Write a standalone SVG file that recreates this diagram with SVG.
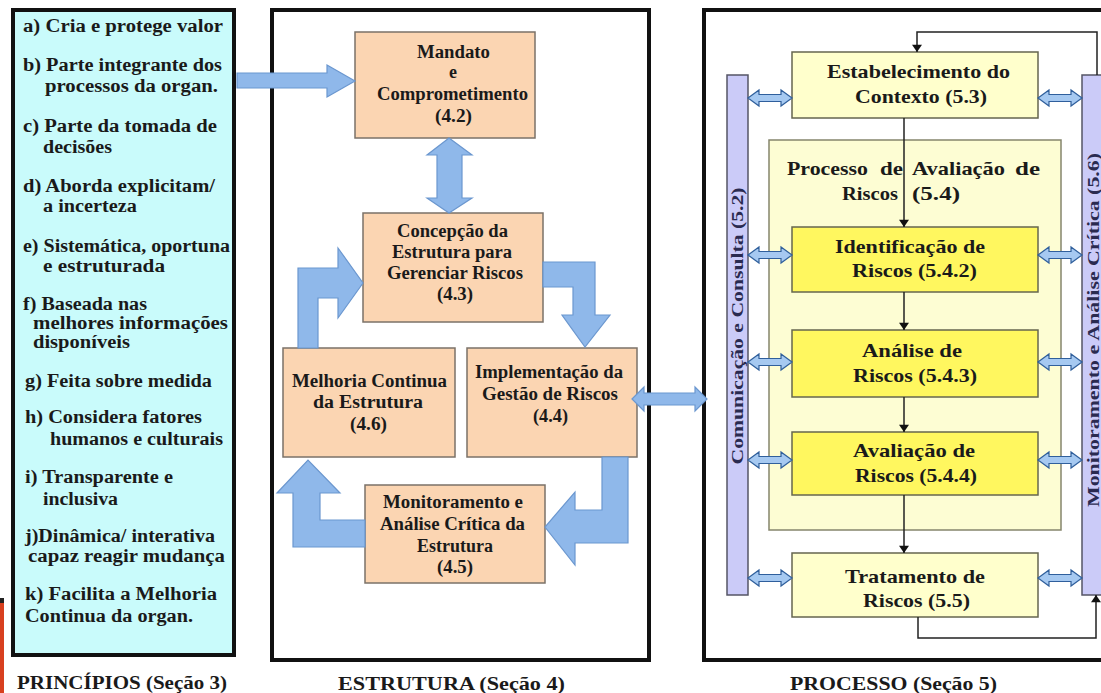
<svg xmlns="http://www.w3.org/2000/svg" xmlns:xlink="http://www.w3.org/1999/xlink" width="1101" height="693" viewBox="0 0 1101 693">
<style>
.t{font-family:"Liberation Serif","Times New Roman",serif;font-weight:bold;fill:#1a1a1a;}
.l{font-size:18px;}
.m{font-size:18px;}
.r{font-size:19px;}
.c{text-anchor:middle;}
.panel{fill:#ffffff;stroke:#111;stroke-width:4;}
.prin{fill:#c9fbfb;stroke:#111;stroke-width:4;}
.peach{fill:#fbd5b2;stroke:#7b7268;stroke-width:1.5;}
.blue{fill:#8fb8ea;stroke:#6b97cf;stroke-width:1.2;}
.ybox{fill:#ffffcc;stroke:#66664f;stroke-width:1.5;}
.ybox2{fill:#fff75f;stroke:#66664f;stroke-width:1.5;}
.proc{fill:#fdfdd3;stroke:#85856c;stroke-width:1.5;}
.bar{fill:#cbcbf8;stroke:#555566;stroke-width:1.5;}
.bt{font-family:"Liberation Serif","Times New Roman",serif;font-weight:bold;font-size:17px;fill:#2a2a50;}
.sa{fill:#a6c9f1;stroke:#2f5f9c;stroke-width:1.2;}
.flow{fill:none;stroke:#222;stroke-width:1.5;}
</style>
<defs>
<marker id="ah" viewBox="0 0 10 14" refX="10" refY="7" markerWidth="14" markerHeight="10" markerUnits="userSpaceOnUse" orient="auto">
<path d="M0,0 L10,7 L0,14 Z" fill="#111"/>
</marker>
<path id="da" d="M0,0 L11,-8 L11,-3.5 L33,-3.5 L33,-8 L44,0 L33,8 L33,3.5 L11,3.5 L11,8 Z"/>
</defs>
<rect x="0" y="0" width="1101" height="693" fill="#ffffff"/>
<rect x="0" y="598" width="4" height="5" fill="#222"/>
<rect x="0" y="603" width="4" height="90" fill="#d8401f"/>

<g id="principios">
<rect class="prin" x="13" y="10" width="221" height="645"/>
<text class="t l" x="23" y="32" textLength="200" lengthAdjust="spacingAndGlyphs">a) Cria e protege  valor</text>
<text class="t l" x="23" y="71" textLength="199" lengthAdjust="spacingAndGlyphs">b) Parte integrante dos</text>
<text class="t l" x="45" y="92" textLength="173" lengthAdjust="spacingAndGlyphs">processos  da organ.</text>
<text class="t l" x="23" y="132" textLength="194" lengthAdjust="spacingAndGlyphs">c) Parte da tomada de</text>
<text class="t l" x="43" y="153" textLength="69" lengthAdjust="spacingAndGlyphs">decisões</text>
<text class="t l" x="23" y="192" textLength="192" lengthAdjust="spacingAndGlyphs">d) Aborda explicitam/</text>
<text class="t l" x="43" y="212" textLength="94" lengthAdjust="spacingAndGlyphs">a incerteza</text>
<text class="t l" x="23" y="252" textLength="207" lengthAdjust="spacingAndGlyphs">e) Sistemática, oportuna</text>
<text class="t l" x="43" y="272" textLength="122" lengthAdjust="spacingAndGlyphs">e estruturada</text>
<text class="t l" x="23" y="310" textLength="124" lengthAdjust="spacingAndGlyphs">f) Baseada nas</text>
<text class="t l" x="33" y="329" textLength="195" lengthAdjust="spacingAndGlyphs">melhores  informações</text>
<text class="t l" x="33" y="348" textLength="97" lengthAdjust="spacingAndGlyphs">disponíveis</text>
<text class="t l" x="25" y="387" textLength="187" lengthAdjust="spacingAndGlyphs">g) Feita sobre medida</text>
<text class="t l" x="25" y="423" textLength="177" lengthAdjust="spacingAndGlyphs">h) Considera fatores</text>
<text class="t l" x="50" y="445" textLength="173" lengthAdjust="spacingAndGlyphs">humanos e culturais</text>
<text class="t l" x="25" y="483" textLength="148" lengthAdjust="spacingAndGlyphs">i) Transparente e</text>
<text class="t l" x="43" y="505" textLength="75" lengthAdjust="spacingAndGlyphs">inclusiva</text>
<text class="t l" x="25" y="542" textLength="190" lengthAdjust="spacingAndGlyphs">j)Dinâmica/ interativa</text>
<text class="t l" x="28" y="562" textLength="197" lengthAdjust="spacingAndGlyphs">capaz reagir  mudança</text>
<text class="t l" x="25" y="600" textLength="192" lengthAdjust="spacingAndGlyphs">k) Facilita  a Melhoria</text>
<text class="t l" x="25" y="622" textLength="168" lengthAdjust="spacingAndGlyphs">Continua da organ.</text>
<text class="t l" x="17" y="689" textLength="210" lengthAdjust="spacingAndGlyphs">PRINCÍPIOS (Seção 3)</text>
</g>

<g id="estrutura">
<rect class="panel" x="272" y="10" width="377" height="650"/>
<text class="t m" x="338" y="690" textLength="227" lengthAdjust="spacingAndGlyphs">ESTRUTURA (Seção 4)</text>
</g>

<g id="processo">
<rect class="panel" x="704" y="10" width="420" height="650"/>
<text class="t m" x="790" y="690" textLength="207" lengthAdjust="spacingAndGlyphs">PROCESSO (Seção 5)</text>
</g>

<g id="mandato">
<rect class="peach" x="355" y="32" width="180" height="106"/>
<text class="t m" x="417" y="58" textLength="73" lengthAdjust="spacingAndGlyphs">Mandato</text>
<text class="t m c" x="453" y="78">e</text>
<text class="t m" x="377" y="100" textLength="151" lengthAdjust="spacingAndGlyphs">Comprometimento</text>
<text class="t m" x="435" y="122" textLength="37" lengthAdjust="spacingAndGlyphs">(4.2)</text>
</g>

<g id="concepcao">
<rect class="peach" x="363" y="213" width="180" height="109"/>
<text class="t m" x="397" y="237" textLength="111" lengthAdjust="spacingAndGlyphs">Concepção da</text>
<text class="t m" x="392" y="258" textLength="120" lengthAdjust="spacingAndGlyphs">Estrutura para</text>
<text class="t m" x="387" y="279" textLength="136" lengthAdjust="spacingAndGlyphs">Gerenciar Riscos</text>
<text class="t m" x="437" y="300" textLength="36" lengthAdjust="spacingAndGlyphs">(4.3)</text>
</g>

<g id="melhoria">
<rect class="peach" x="283" y="348" width="172" height="109"/>
<text class="t m" x="292" y="387" textLength="155" lengthAdjust="spacingAndGlyphs">Melhoria Continua</text>
<text class="t m" x="313" y="408" textLength="110" lengthAdjust="spacingAndGlyphs">da  Estrutura</text>
<text class="t m" x="350" y="430" textLength="37" lengthAdjust="spacingAndGlyphs">(4.6)</text>
</g>

<g id="implementacao">
<rect class="peach" x="467" y="348" width="170" height="109"/>
<text class="t m" x="475" y="378" textLength="148" lengthAdjust="spacingAndGlyphs">Implementação da</text>
<text class="t m" x="482" y="400" textLength="136" lengthAdjust="spacingAndGlyphs">Gestão de Riscos</text>
<text class="t m" x="533" y="422" textLength="35" lengthAdjust="spacingAndGlyphs">(4.4)</text>
</g>

<g id="monitoramento-estrutura">
<rect class="peach" x="365" y="485" width="180" height="98"/>
<text class="t m" x="383" y="508" textLength="140" lengthAdjust="spacingAndGlyphs">Monitoramento e</text>
<text class="t m" x="380" y="530" textLength="145" lengthAdjust="spacingAndGlyphs">Análise Crítica da</text>
<text class="t m" x="417" y="552" textLength="76" lengthAdjust="spacingAndGlyphs">Estrutura</text>
<text class="t m" x="437" y="573" textLength="36" lengthAdjust="spacingAndGlyphs">(4.5)</text>
</g>

<g id="comunicacao">
<rect class="bar" x="727" y="75" width="21" height="520"/>
<text class="bt c" transform="translate(743,326) rotate(-90)" textLength="277" lengthAdjust="spacingAndGlyphs">Comunicação e Consulta (5.2)</text>
</g>

<g id="monitoramento-processo">
<rect class="bar" x="1082" y="75" width="24" height="520"/>
<text class="bt c" transform="translate(1099,330) rotate(-90)" textLength="354" lengthAdjust="spacingAndGlyphs">Monitoramento e Análise Crítica (5.6)</text>
</g>

<g id="avaliacao-processo">
<rect class="proc" x="769" y="140" width="292" height="390"/>
<text class="t r" y="175"><tspan x="787" textLength="81" lengthAdjust="spacingAndGlyphs">Processo</tspan><tspan x="880" textLength="23" lengthAdjust="spacingAndGlyphs">de</tspan><tspan x="912" textLength="93" lengthAdjust="spacingAndGlyphs">Avaliação</tspan><tspan x="1015" textLength="25" lengthAdjust="spacingAndGlyphs">de</tspan></text>
<text class="t r" y="200"><tspan x="842" textLength="56" lengthAdjust="spacingAndGlyphs">Riscos</tspan><tspan x="912" textLength="48" lengthAdjust="spacingAndGlyphs">(5.4)</tspan></text>
</g>

<g id="contexto">
<rect class="ybox" x="792" y="52" width="246" height="66"/>
<text class="t r" x="827" y="78" textLength="183" lengthAdjust="spacingAndGlyphs">Estabelecimento do</text>
<text class="t r" x="855" y="103" textLength="132" lengthAdjust="spacingAndGlyphs">Contexto (5.3)</text>
</g>

<g id="identificacao">
<rect class="ybox2" x="792" y="227" width="246" height="65"/>
<text class="t r" x="835" y="253" textLength="150" lengthAdjust="spacingAndGlyphs">Identificação de</text>
<text class="t r" x="852" y="277" textLength="125" lengthAdjust="spacingAndGlyphs">Riscos (5.4.2)</text>
</g>

<g id="analise">
<rect class="ybox2" x="792" y="330" width="246" height="67"/>
<text class="t r" x="862" y="357" textLength="100" lengthAdjust="spacingAndGlyphs">Análise de</text>
<text class="t r" x="853" y="382" textLength="124" lengthAdjust="spacingAndGlyphs">Riscos (5.4.3)</text>
</g>

<g id="avaliacao">
<rect class="ybox2" x="792" y="432" width="246" height="63"/>
<text class="t r" x="853" y="457" textLength="122" lengthAdjust="spacingAndGlyphs">Avaliação de</text>
<text class="t r" x="855" y="482" textLength="122" lengthAdjust="spacingAndGlyphs">Riscos (5.4.4)</text>
</g>

<g id="tratamento">
<rect class="ybox" x="792" y="553" width="246" height="64"/>
<text class="t r" x="845" y="583" textLength="140" lengthAdjust="spacingAndGlyphs">Tratamento de</text>
<text class="t r" x="863" y="607" textLength="107" lengthAdjust="spacingAndGlyphs">Riscos (5.5)</text>
</g>

<g id="connectors">
<path class="blue" d="M237,73 L327,73 L327,65 L355,81 L327,97 L327,88 L237,88 Z"/>
<path class="blue" d="M449,138 L472,155 L462,155 L462,198 L472,198 L449,213 L427,198 L437,198 L437,155 L427,155 Z"/>
<path class="blue" d="M543,262 L595,262 L595,315 L610,315 L585,347 L562,315 L573,315 L573,287 L543,287 Z"/>
<path class="blue" d="M602,457 L628,457 L628,543 L575,543 L575,565 L545,527 L575,492 L575,510 L602,510 Z"/>
<path class="blue" d="M365,520 L365,547 L293,547 L293,493 L277,493 L308,460 L340,493 L320,493 L320,520 Z"/>
<path class="blue" d="M298,348 L298,268 L338,268 L338,248 L363,283 L338,318 L338,298 L318,298 L318,348 Z"/>
<path class="blue" d="M632,399 L644,387 L644,393 L695,393 L695,387 L707,399 L695,411 L695,405 L644,405 L644,411 Z"/>
<use href="#da" class="sa" x="748" y="98"/>
<use href="#da" class="sa" x="748" y="255"/>
<use href="#da" class="sa" x="748" y="362"/>
<use href="#da" class="sa" x="748" y="460"/>
<use href="#da" class="sa" x="748" y="578"/>
<use href="#da" class="sa" x="1038" y="98"/>
<use href="#da" class="sa" x="1038" y="255"/>
<use href="#da" class="sa" x="1038" y="362"/>
<use href="#da" class="sa" x="1038" y="460"/>
<use href="#da" class="sa" x="1038" y="578"/>
<line class="flow" x1="904" y1="118" x2="904" y2="227" marker-end="url(#ah)"/>
<line class="flow" x1="904" y1="292" x2="904" y2="330" marker-end="url(#ah)"/>
<line class="flow" x1="904" y1="397" x2="904" y2="432" marker-end="url(#ah)"/>
<line class="flow" x1="904" y1="495" x2="904" y2="553" marker-end="url(#ah)"/>
<polyline class="flow" points="1097,75 1097,32 917,32 917,52" marker-end="url(#ah)"/>
<polyline class="flow" points="918,617 918,638 1096,638 1096,595" marker-end="url(#ah)"/>
</g>
</svg>
